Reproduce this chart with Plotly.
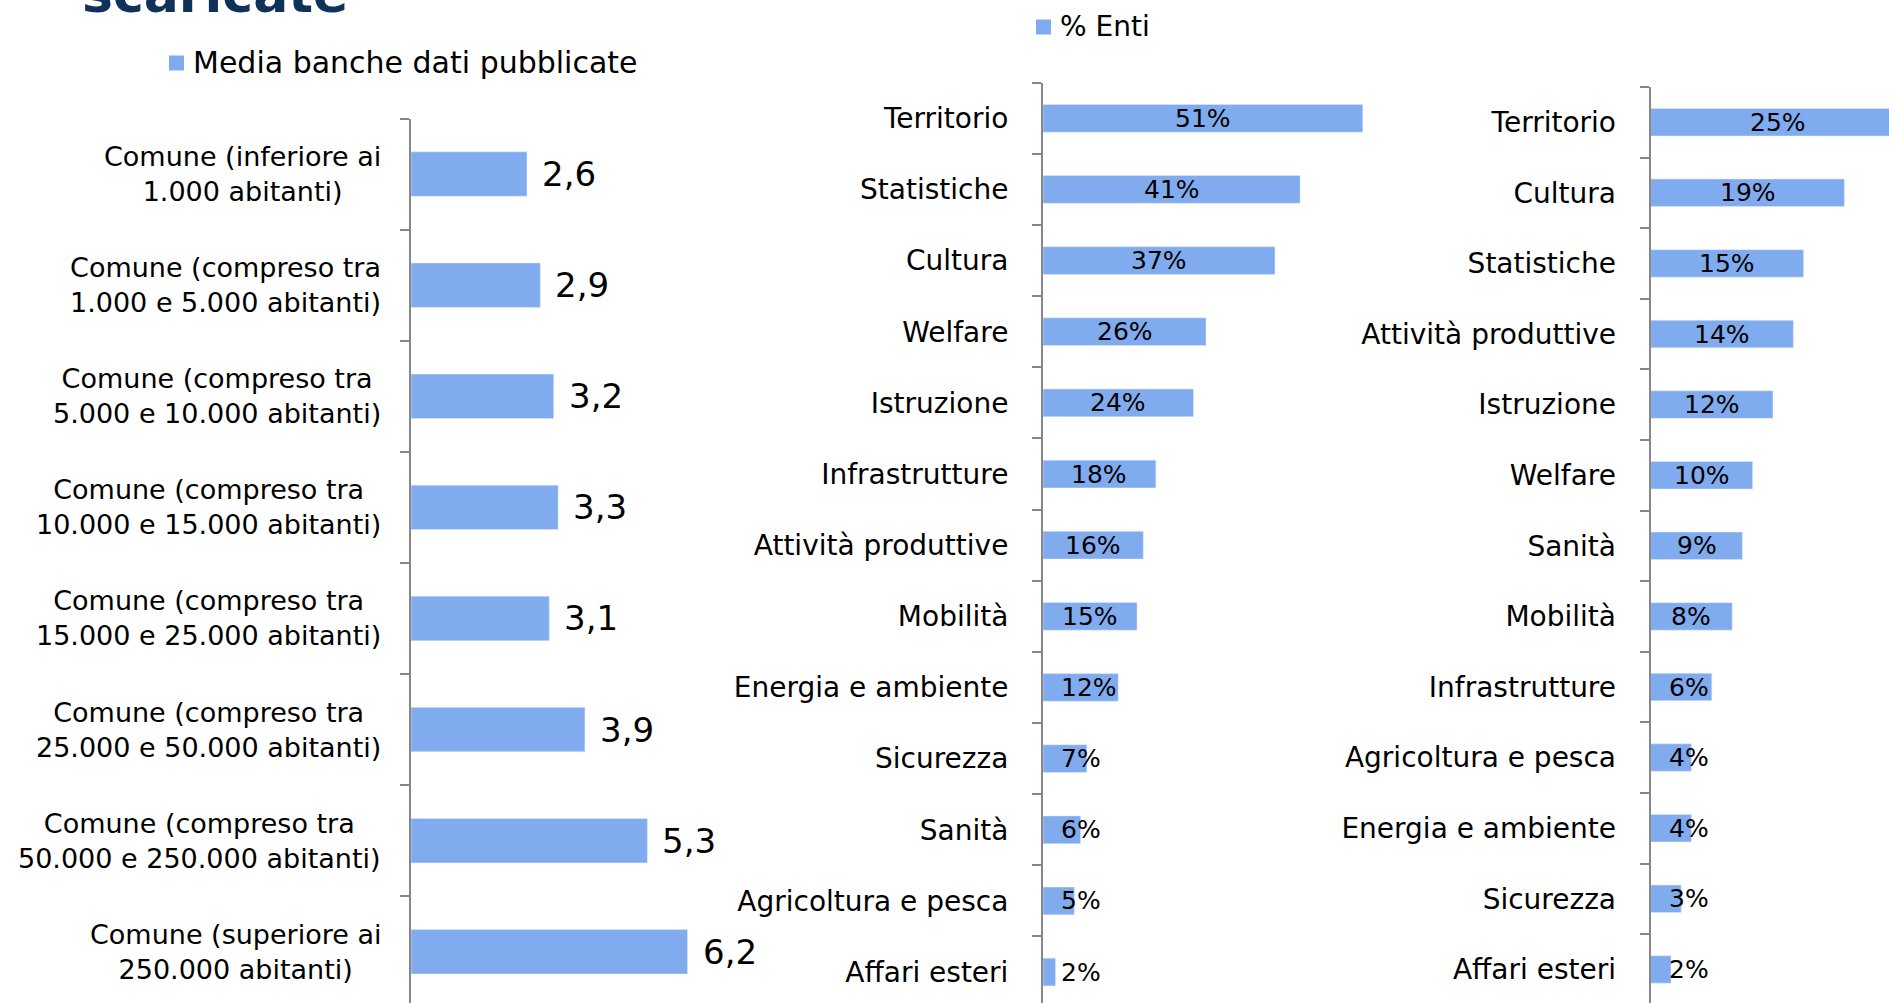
import plotly.graph_objects as go

W, H = 1889, 1003

# --- Media banche dati pubblicate, per classe di ampiezza del comune ---
comuni = [
    "Comune (inferiore ai<br>1.000 abitanti)",
    "Comune (compreso tra<br>1.000 e 5.000 abitanti)",
    "Comune (compreso tra<br>5.000 e 10.000 abitanti)",
    "Comune (compreso tra<br>10.000 e 15.000 abitanti)",
    "Comune (compreso tra<br>15.000 e 25.000 abitanti)",
    "Comune (compreso tra<br>25.000 e 50.000 abitanti)",
    "Comune (compreso tra<br>50.000 e 250.000 abitanti)",
    "Comune (superiore ai<br>250.000 abitanti)",
]
media_banche = [2.6, 2.9, 3.2, 3.3, 3.1, 3.9, 5.3, 6.2]

# --- % Enti per tema (grafico centrale) ---
temi_centro = [
    "Territorio", "Statistiche", "Cultura", "Welfare", "Istruzione",
    "Infrastrutture", "Attività produttive", "Mobilità", "Energia e ambiente",
    "Sicurezza", "Sanità", "Agricoltura e pesca", "Affari esteri",
]
enti_centro = [51, 41, 37, 26, 24, 18, 16, 15, 12, 7, 6, 5, 2]

# --- % Enti per tema (grafico di destra) ---
temi_destra = [
    "Territorio", "Cultura", "Statistiche", "Attività produttive", "Istruzione",
    "Welfare", "Sanità", "Mobilità", "Infrastrutture", "Agricoltura e pesca",
    "Energia e ambiente", "Sicurezza", "Affari esteri",
]
enti_destra = [25, 19, 15, 14, 12, 10, 9, 8, 6, 4, 4, 3, 2]

BAR = "#80ACEF"
AXIS = "#878787"
NAVY = "#10325A"
FONT = "DejaVu Sans"


def px_x(p):
    return p / W


def px_y(p):
    return 1 - p / H


fig = go.Figure()

fig.add_trace(go.Bar(
    x=media_banche, y=comuni, orientation="h", width=0.4,
    marker=dict(color=BAR), name="Media banche dati pubblicate",
    xaxis="x", yaxis="y", showlegend=False,
))
fig.add_trace(go.Bar(
    x=enti_centro, y=temi_centro, orientation="h", width=0.39,
    marker=dict(color=BAR), name="% Enti",
    xaxis="x2", yaxis="y2", showlegend=False,
))
fig.add_trace(go.Bar(
    x=enti_destra, y=temi_destra, orientation="h", width=0.39,
    marker=dict(color=BAR), name="% Enti",
    xaxis="x3", yaxis="y3", showlegend=False,
))

annotations = []
shapes = []

# left chart: category labels (centred lines) and value labels
for cat, v in zip(comuni, media_banche):
    annotations.append(dict(
        x=0, y=cat, xref="x", yref="y", xanchor="right", yanchor="middle",
        xshift=-28, align="center", text=cat, showarrow=False,
        font=dict(family=FONT, size=27, color="black"),
    ))
    annotations.append(dict(
        x=v, y=cat, xref="x", yref="y", xanchor="left", yanchor="middle",
        xshift=13, text=f"{v:.1f}".replace(".", ","), showarrow=False,
        font=dict(family=FONT, size=34, color="black"),
    ))


def pct_labels(cats, vals, xref, yref, px_per_unit, size=25, pad=17):
    out = []
    for cat, v in zip(cats, vals):
        txt = f"{v}%"
        w_est = (len(txt) - 1) * 0.636 * size + 0.95 * size
        centre = v / 2 * px_per_unit
        if centre - w_est / 2 < pad:
            a = dict(x=0, xanchor="left", xshift=pad)
        else:
            a = dict(x=v / 2, xanchor="center")
        a.update(y=cat, xref=xref, yref=yref, yanchor="middle", text=txt,
                 showarrow=False, borderpad=0,
                 font=dict(family=FONT, size=size, color="black"))
        out.append(a)
    return out


annotations += pct_labels(temi_centro, enti_centro, "x2", "y2", 6.27)
annotations += pct_labels(temi_destra, enti_destra, "x3", "y3", 10.2)


# legend keys: coloured square followed by the series name
def legend_key(x0, y_mid, side, label, size):
    shapes.append(dict(
        type="rect", xref="paper", yref="paper", line=dict(width=0),
        fillcolor=BAR, x0=px_x(x0), x1=px_x(x0 + side),
        y0=px_y(y_mid + side / 2), y1=px_y(y_mid - side / 2),
    ))
    annotations.append(dict(
        x=px_x(x0 + side + 8), y=px_y(y_mid), xref="paper", yref="paper",
        xanchor="left", yanchor="middle", text=label, showarrow=False,
        borderpad=0, font=dict(family=FONT, size=size, color="black"),
    ))


legend_key(169, 63, 15, "Media banche dati pubblicate", 30)
legend_key(1036, 27, 15, "% Enti", 28)

# slide title, partly above the visible area
annotations.append(dict(
    x=px_x(80), y=px_y(26), xref="paper", yref="paper",
    xanchor="left", yanchor="bottom", text="<b>scaricate</b>", showarrow=False,
    font=dict(family=FONT, size=52, color=NAVY),
))

cat_axis = dict(
    type="category", showline=True, linecolor=AXIS, linewidth=2,
    ticks="outside", tickson="boundaries", ticklen=9, tickwidth=2,
    tickcolor=AXIS, showgrid=False, zeroline=False,
    tickfont=dict(family=FONT, size=28, color="black"),
)

fig.update_layout(
    width=W, height=H, margin=dict(l=0, r=0, t=0, b=0),
    paper_bgcolor="white", plot_bgcolor="white",
    font=dict(family=FONT, color="black"),
    showlegend=False,
    xaxis=dict(domain=[px_x(411), px_x(411 + 44.6 * 7.5)], range=[0, 7.5],
               visible=False),
    yaxis=dict(cat_axis, domain=[0, px_y(118.5)], range=[7.461, -0.5],
               showticklabels=False, anchor="x"),
    xaxis2=dict(domain=[px_x(1043), px_x(1043 + 6.27 * 55)], range=[0, 55],
                visible=False, anchor="y2"),
    yaxis2=dict(cat_axis, domain=[0, px_y(82.7)], range=[12.435, -0.5],
                anchor="x2", ticklabelstandoff=27),
    xaxis3=dict(domain=[px_x(1650.6), 1], range=[0, (W - 1650.6) / 10.2],
                visible=False, anchor="y3"),
    yaxis3=dict(cat_axis, domain=[0, px_y(86.9)], range=[12.476, -0.5],
                anchor="x3", ticklabelstandoff=27),
    shapes=shapes,
    annotations=annotations,
)

fig.write_html("out.html")
